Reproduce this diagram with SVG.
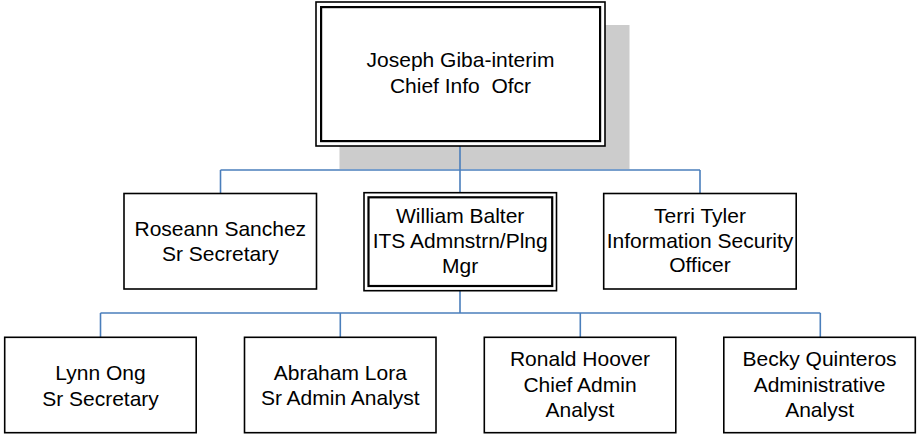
<svg xmlns="http://www.w3.org/2000/svg" width="917" height="434" viewBox="0 0 917 434">
<style>
  .box { fill: #ffffff; stroke: #000000; stroke-width: 1.6; }
  .inner { fill: none; stroke: #000000; stroke-width: 2.2; }
  .conn { fill: none; stroke: #4a7ebb; stroke-width: 1.6; }
  .shadow { fill: #cccccc; }
  text { font-family: "Liberation Sans", Arial, sans-serif; font-size: 21px; fill: #000000; text-anchor: middle; }
</style>
<rect width="917" height="434" fill="#ffffff"/>
<rect class="shadow" x="339.5" y="25" width="290" height="144"/>
<g id="connectors">
  <path class="conn" d="M460 146 V192.7"/>
  <path class="conn" d="M220.5 170 H700"/>
  <path class="conn" d="M220.5 170 V193.5"/>
  <path class="conn" d="M700 170 V193.5"/>
  <path class="conn" d="M460 290.7 V313"/>
  <path class="conn" d="M100.5 313 H820.3"/>
  <path class="conn" d="M100.5 313 V337.3"/>
  <path class="conn" d="M340.3 313 V337.3"/>
  <path class="conn" d="M580.3 313 V337.3"/>
  <path class="conn" d="M820.3 313 V337.3"/>
</g>
<g id="node-joseph">
  <rect class="box" x="316" y="2" width="289" height="144"/>
  <rect class="inner" x="321.1" y="7.1" width="279" height="134"/>
  <text x="460.5" y="66.7">Joseph Giba-interim</text>
  <text x="460.5" y="92.7" xml:space="preserve" style="white-space:pre">Chief Info  Ofcr</text>
</g>
<g id="node-roseann">
  <rect class="box" x="124" y="193.5" width="192.5" height="95.5"/>
  <text x="220.3" y="236">Roseann Sanchez</text>
  <text x="220.3" y="261">Sr Secretary</text>
</g>
<g id="node-william">
  <rect class="box" x="364" y="192.7" width="192.5" height="98"/>
  <rect class="inner" x="368.5" y="197.3" width="183.7" height="88.7"/>
  <text x="460.2" y="223">William Balter</text>
  <text x="460.2" y="248">ITS Admnstrn/Plng</text>
  <text x="460.2" y="272.5">Mgr</text>
</g>
<g id="node-terri">
  <rect class="box" x="603.7" y="193.5" width="192.5" height="95.5"/>
  <text x="700" y="222.5">Terri Tyler</text>
  <text x="700" y="247.5">Information Security</text>
  <text x="700" y="272">Officer</text>
</g>
<g id="node-lynn">
  <rect class="box" x="4.7" y="337.3" width="191.5" height="95.4"/>
  <text x="100.5" y="380">Lynn Ong</text>
  <text x="100.5" y="405.5">Sr Secretary</text>
</g>
<g id="node-abraham">
  <rect class="box" x="244.5" y="337.3" width="191.5" height="95.4"/>
  <text x="340.3" y="379.5">Abraham Lora</text>
  <text x="340.3" y="405">Sr Admin Analyst</text>
</g>
<g id="node-ronald">
  <rect class="box" x="484.3" y="337.3" width="191.5" height="95.4"/>
  <text x="580" y="365.7">Ronald Hoover</text>
  <text x="580" y="391.5">Chief Admin</text>
  <text x="580" y="417.3">Analyst</text>
</g>
<g id="node-becky">
  <rect class="box" x="723.8" y="337.3" width="191.5" height="95.4"/>
  <text x="819.6" y="365.7">Becky Quinteros</text>
  <text x="819.6" y="391.5">Administrative</text>
  <text x="819.6" y="417.3">Analyst</text>
</g>
</svg>
